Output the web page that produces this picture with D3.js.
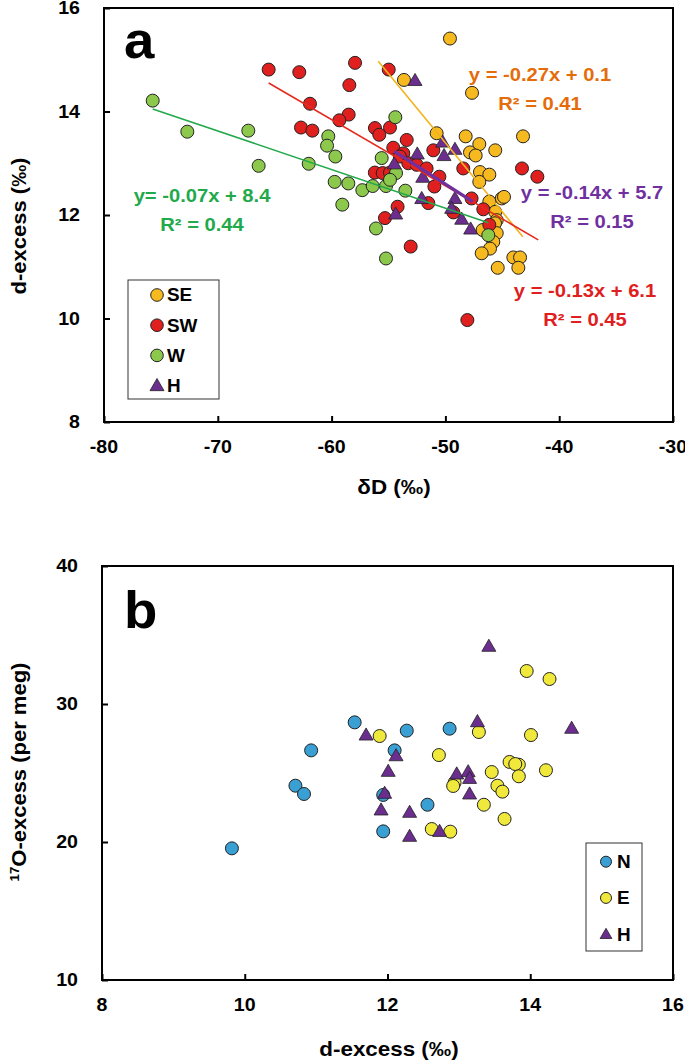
<!DOCTYPE html>
<html><head><meta charset="utf-8">
<script src="https://cdn.jsdelivr.net/npm/d3@7"></script>
<style>body{margin:0;background:#fff}svg{display:block}text{font-family:"Liberation Sans",Arial,sans-serif;font-weight:bold}</style>
</head><body><svg id="c" width="685" height="1063"></svg>
<script>
// ---------- Panel a data: [δD, d-excess] ----------
const seData = [[-49.6,15.41],[-53.64,14.61],[-47.66,14.36],[-50.77,13.58],[-48.22,13.52],[-47.02,13.37],[-47.84,13.21],[-47.34,13.15],[-45.62,13.25],[-43.18,13.52],[-46.96,12.83],[-46.14,12.78],[-47.02,12.64],[-45.05,12.32],[-44.85,12.35],[-46.14,12.26],[-45.62,12.06],[-45.49,11.9],[-45.64,11.84],[-46.73,11.71],[-45.49,11.65],[-45.79,11.48],[-46.08,11.35],[-46.81,11.26],[-44.03,11.18],[-43.44,11.18],[-43.59,10.98],[-45.4,10.98]];
const swData = [[-65.53,14.81],[-62.84,14.76],[-57.94,14.94],[-58.44,14.51],[-61.9,14.15],[-58.5,13.94],[-59.32,13.83],[-62.69,13.69],[-61.69,13.63],[-56.19,13.68],[-55.81,13.55],[-56.2,12.82],[-54.98,14.81],[-54.87,13.69],[-53.4,13.45],[-54.58,13.3],[-53.7,13.19],[-54.0,13.13],[-53.26,13.0],[-52.52,12.97],[-51.06,13.25],[-55.51,12.81],[-54.87,12.82],[-51.65,12.9],[-50.53,12.74],[-50.97,12.55],[-48.43,12.9],[-51.5,12.23],[-54.2,12.16],[-55.31,11.94],[-47.7,12.32],[-46.67,12.11],[-46.14,11.81],[-43.27,12.9],[-41.92,12.74],[-53.05,11.39],[-48.07,9.97],[-49.3,12.05]];
const wData = [[-75.72,14.21],[-72.68,13.61],[-67.32,13.63],[-66.41,12.95],[-62.01,12.99],[-60.29,13.52],[-60.4,13.34],[-59.67,13.13],[-59.73,12.64],[-58.53,12.61],[-59.06,12.2],[-57.3,12.48],[-56.39,12.56],[-56.1,11.74],[-55.6,13.1],[-54.4,13.89],[-54.34,12.81],[-55.22,12.56],[-54.87,12.68],[-53.52,12.47],[-55.22,11.16],[-46.23,11.61]];
const hAData = [[-52.67,14.58],[-50.24,13.39],[-49.16,13.25],[-50.12,13.13],[-52.47,13.16],[-54.49,12.97],[-51.99,12.71],[-52.08,12.3],[-49.16,12.3],[-49.45,12.11],[-48.57,11.9],[-47.78,11.71],[-54.37,12.0]];
// trend-line endpoints
const seLine = [[-55.9,14.97],[-43.2,11.58]];
const swLine = [[-65.53,14.55],[-41.84,11.52]];
const wLine  = [[-75.72,14.05],[-46.23,11.85]];
const hLine  = [[-54.49,13.23],[-47.6,12.26]];
const eqLabels = ["y = -0.27x + 0.1","y = -0.14x + 5.7","y = -0.13x + 6.1","y= -0.07x + 8.4"];
const r2Labels = ["R² = 0.41","R² = 0.15","R² = 0.45","R² = 0.44"];
const xTicksA = [-80,-70,-60,-50,-40,-30];
const yTicksA = [8,10,12,14,16];
const legendA = ["SE","SW","W","H"];

// ---------- Panel b data: [d-excess, 17O-excess] ----------
const nData = [[11.54,28.67],[12.27,28.07],[12.1,26.64],[10.93,26.64],[10.71,24.08],[10.83,23.48],[11.94,23.41],[12.56,22.7],[11.94,20.77],[9.82,19.54],[12.87,28.21]];
const eData = [[11.89,27.68],[12.72,26.3],[12.62,20.94],[13.95,32.39],[14.27,31.81],[13.28,27.97],[14.01,27.75],[13.71,25.8],[13.84,25.6],[13.79,25.65],[13.46,25.07],[14.22,25.2],[13.84,24.76],[12.94,24.3],[12.92,24.06],[13.54,24.08],[13.61,23.65],[13.35,22.7],[13.64,21.67],[12.88,20.75]];
const hBData = [[11.7,27.68],[12.12,26.18],[12.01,25.05],[11.96,23.46],[11.91,22.25],[12.31,22.08],[12.31,20.34],[12.73,20.7],[13.42,34.11],[13.26,28.65],[14.58,28.17],[12.97,24.86],[13.13,25.02],[13.15,24.54],[13.15,23.41]];
const xTicksB = [8,10,12,14,16];
const yTicksB = [10,20,30,40];
const legendB = ["N","E","H"];

const COL = {SE:"#F6B91F", SW:"#E0201F", W:"#8CC84B", H:"#6B2E8F", N:"#3A9FD3", E:"#F0E83A"};
const SX = 1.12; // horizontal stretch of the reference lettering

const svg = d3.select("#c");
const tri = d3.symbol().type(d3.symbolTriangle).size(85);
const triSmall = d3.symbol().type(d3.symbolTriangle).size(60);

function txt(g, x, y, s, o={}){
  const t = g.append("text")
    .attr("transform", `translate(${x},${y})` + (o.rot ? ` rotate(${o.rot})` : "") + ` scale(${o.sx||SX},1)`)
    .attr("text-anchor", o.anchor||"middle").attr("dy", o.dy==null ? "0.35em" : o.dy)
    .attr("font-size", o.size||18).attr("fill", o.fill||"#000");
  if (s!=null) t.text(s);
  return t;
}

function frame(g, x, y, ticksX, ticksY){
  const [x0,x1] = x.range(), [y1,y0] = y.range();
  const ax = g.append("g").attr("transform",`translate(0,${y1})`)
    .call(d3.axisBottom(x).tickValues(ticksX).tickSize(-6).tickFormat(""));
  const ay = g.append("g").attr("transform",`translate(${x0},0)`)
    .call(d3.axisLeft(y).tickValues(ticksY).tickSize(-6).tickFormat(""));
  [ax,ay].forEach(a=>{
    a.select(".domain").remove();
    a.selectAll("line").attr("stroke","#000").attr("stroke-width",2);
    a.selectAll("text").remove();
  });
  ticksX.forEach(v=>txt(g, x(v), y1+25, String(v), {size:17.5}));
  ticksY.forEach(v=>txt(g, x0-24, y(v), String(v), {size:17.5, anchor:"end"}));
  g.append("rect").attr("x",x0).attr("y",y0).attr("width",x1-x0).attr("height",y1-y0)
    .attr("fill","none").attr("stroke","#000").attr("stroke-width",2);
}
function circles(g,data,x,y,col,r){
  g.append("g").selectAll("circle").data(data).join("circle")
    .attr("cx",d=>x(d[0])).attr("cy",d=>y(d[1])).attr("r",r)
    .attr("fill",col).attr("stroke","#222").attr("stroke-width",1);
}
function triangles(g,data,x,y,col,sym){
  g.append("g").selectAll("path").data(data).join("path")
    .attr("d",sym).attr("transform",d=>`translate(${x(d[0])},${y(d[1])})`)
    .attr("fill",col).attr("stroke","#222").attr("stroke-width",0.8);
}

// ================= Panel a =================
const xa = d3.scaleLinear().domain([-80,-30]).range([104,673]);
const ya = d3.scaleLinear().domain([8,16]).range([422,8]);
const ga = svg.append("g");
frame(ga, xa, ya, xTicksA, yTicksA);

circles(ga, seData, xa, ya, COL.SE, 6.5);
circles(ga, swData, xa, ya, COL.SW, 6.5);
circles(ga, wData, xa, ya, COL.W, 6.5);
triangles(ga, hAData, xa, ya, COL.H, tri);

const line = d3.line().x(d=>xa(d[0])).y(d=>ya(d[1]));
ga.append("path").attr("d",line(seLine)).attr("stroke","#F2B31B").attr("stroke-width",1.6).attr("fill","none");
ga.append("path").attr("d",line(swLine)).attr("stroke","#E62A1F").attr("stroke-width",1.6).attr("fill","none");
ga.append("path").attr("d",line(wLine)).attr("stroke","#22A94B").attr("stroke-width",1.6).attr("fill","none");
ga.append("path").attr("d",line(hLine)).attr("stroke","#7030A0").attr("stroke-width",3.2).attr("fill","none");

const eqPos = [{c:"#E46C0A",x:540,y:75},{c:"#7030A0",x:592,y:193},{c:"#E02020",x:585,y:291},{c:"#22A94B",x:202,y:196}];
eqPos.forEach((p,i)=>{
  txt(ga, p.x, p.y, eqLabels[i], {size:18, fill:p.c});
  txt(ga, p.x, p.y+29, r2Labels[i], {size:18, fill:p.c});
});

txt(ga, 124, 58, "a", {size:52, anchor:"start", dy:0, sx:1.05});

// legend a
ga.append("rect").attr("x",128).attr("y",280).attr("width",91).attr("height",119)
  .attr("fill","#fff").attr("stroke","#333").attr("stroke-width",1);
legendA.forEach((k,i)=>{
  const cy = 295 + i*30.2;
  if(k==="H"){
    ga.append("path").attr("d",tri).attr("transform",`translate(157,${cy+1})`)
      .attr("fill",COL.H).attr("stroke","#222").attr("stroke-width",0.8);
  } else {
    ga.append("circle").attr("cx",157).attr("cy",cy).attr("r",6.3)
      .attr("fill",COL[k]).attr("stroke","#222").attr("stroke-width",1);
  }
  txt(ga, 167, cy, k, {size:18, anchor:"start", dy:"0.36em", sx:1.05});
});

txt(ga, 394, 487, "δD (‰)", {size:20});
txt(ga, 26, 226, "d-excess (‰)", {size:20, rot:-90, dy:0, sx:1.1});

// ================= Panel b =================
const xb = d3.scaleLinear().domain([8,16]).range([102,673]);
const yb = d3.scaleLinear().domain([10,40]).range([980,566]);
const gb = svg.append("g");
frame(gb, xb, yb, xTicksB, yTicksB);

circles(gb, nData, xb, yb, COL.N, 6.5);
circles(gb, eData, xb, yb, COL.E, 6.5);
triangles(gb, hBData, xb, yb, COL.H, tri);

txt(gb, 124, 628, "b", {size:52, anchor:"start", dy:0, sx:1.05});

gb.append("rect").attr("x",586).attr("y",843).attr("width",56).attr("height",108)
  .attr("fill","#fff").attr("stroke","#333").attr("stroke-width",1);
legendB.forEach((k,i)=>{
  const cy = 861.7 + i*36.2;
  if(k==="H"){
    gb.append("path").attr("d",triSmall).attr("transform",`translate(606,${cy+1})`)
      .attr("fill",COL.H).attr("stroke","#222").attr("stroke-width",0.8);
  } else {
    gb.append("circle").attr("cx",606).attr("cy",cy).attr("r",5.5)
      .attr("fill",COL[k]).attr("stroke","#222").attr("stroke-width",1);
  }
  txt(gb, 617, cy, k, {size:18, anchor:"start", dy:"0.36em", sx:1.05});
});

txt(gb, 389, 1049, "d-excess (‰)", {size:20});
const yt = txt(gb, 26, 772, null, {size:20, rot:-90, dy:0, sx:1.1});
yt.append("tspan").attr("font-size",12).attr("dy","-0.55em").text("17");
yt.append("tspan").attr("dy","0.35em").text("O-excess (per meg)");
</script></body></html>
